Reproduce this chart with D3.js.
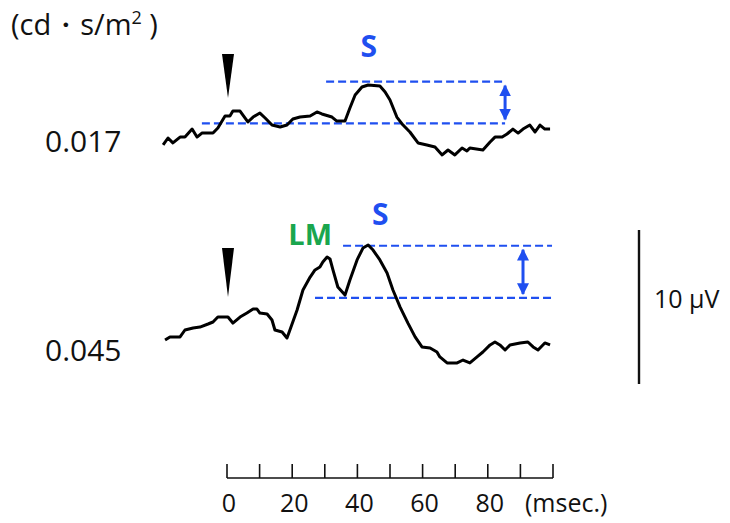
<!DOCTYPE html>
<html>
<head>
<meta charset="utf-8">
<script src="https://cdn.jsdelivr.net/npm/d3@7"></script>
<style>
  html, body { margin: 0; padding: 0; background: #fff; }
  svg { display: block; }
  text { font-family: "Open Sans", Lato, "Liberation Sans", sans-serif; }
</style>
</head>
<body>
<svg id="chart" width="730" height="523"></svg>
<script>
// ---------------- data ----------------
const intensities = ["0.017", "0.045"];
const unitLabel = "(cd・s/m";
const timeTicks = [0, 10, 20, 30, 40, 50, 60, 70, 80, 90, 100];
const timeTickLabels = [0, 20, 40, 60, 80];
const timeUnit = "(msec.)";
const scaleBarValue = 10; // µV
const scaleBarLabel = "10 µV";

// trace 1 (0.017 cd·s/m²): time (ms) and amplitude (µV)
const time017 = [-19.6,-18.1,-16.6,-14.4,-12.9,-10.7,-9.2,-7.7,-4.3,-2.8,-0.6,0.9,1.8,4.0,6.4,8.0,10.1,11.7,13.8,16.3,18.4,20.2,22.4,25.5,27.6,29.1,32.2,33.7,36.2,37.7,39.3,41.4,43.3,46.9,48.5,50.0,52.1,54.0,56.1,58.6,61.3,63.8,66.0,67.8,69.9,72.1,73.6,74.5,78.5,80.7,82.2,84.4,85.9,87.7,89.3,90.8,92.9,94.5,96.0,97.5,99.1];
const amp017  = [-0.32,0.13,-0.19,0.19,0.19,0.71,0.19,0.45,0.45,0.78,1.56,1.56,1.88,1.88,1.17,1.49,1.75,1.43,0.97,0.84,0.97,1.36,1.49,1.56,1.82,1.69,1.49,1.23,1.23,2.08,2.92,3.44,3.57,3.51,3.12,2.60,1.49,0.97,0.52,-0.19,-0.32,-0.45,-0.97,-0.65,-0.97,-0.52,-0.71,-0.52,-0.65,-0.13,0.19,0.19,0.39,0.71,0.45,0.71,0.97,0.52,0.97,0.71,0.71];

// trace 2 (0.045 cd·s/m²)
const time045 = [-19.0,-17.5,-14.4,-12.9,-10.4,-8.3,-5.8,-4.3,-2.8,0.3,1.8,4.0,6.1,8.0,9.2,10.1,12.3,13.8,14.7,16.9,18.4,19.3,21.5,23.3,25.5,27.0,28.5,29.4,30.7,31.6,32.5,34.0,36.2,37.7,39.9,41.7,43.3,44.8,46.9,49.1,50.9,53.1,55.5,57.7,59.8,62.3,64.4,65.3,67.5,70.6,72.4,74.5,76.7,78.5,80.7,82.2,83.7,85.3,86.8,89.9,92.3,93.9,95.4,97.5,99.1];
const amp045  = [-0.65,-0.45,-0.45,0,0.13,0.19,0.39,0.52,0.84,0.84,0.45,0.84,1.10,1.36,1.36,1.10,1.04,0.65,0,-0.13,-0.52,0,1.30,2.60,3.44,3.90,4.09,4.42,4.74,4.61,3.90,2.79,2.27,3.25,4.55,5.32,5.52,5.19,4.55,3.70,2.60,1.49,0.45,-0.45,-1.10,-1.17,-1.43,-1.75,-2.14,-2.14,-1.95,-2.14,-1.75,-1.43,-0.97,-0.78,-0.97,-1.30,-0.97,-0.84,-0.78,-1.10,-1.30,-0.84,-0.97];

// annotation levels (µV) and extents (ms)
const peakLevels   = [3.79, 5.47];
const troughLevels = [1.08, 2.08];
const peakStart    = [30.4, 35.6];
const troughStart  = [-7.7, 27.0];
const dashEnd      = [85.3, 99.7];
const arrowTime    = [85.3, 90.8];
const sLabelTime   = [43.5, 47.0];
const lmLabelTime  = 25.5;

// ---------------- layout ----------------
const svg = d3.select("#chart");
const blue = "#1f4ff0";
const green = "#1aa64e";

const x = d3.scaleLinear().domain([0, 100]).range([227, 553]);
const y = d3.scaleLinear().domain([0, scaleBarValue]).range([0, -154]); // µV -> px offset
const baselines = [140, 330];

const line = d3.line().x((d) => x(d[0])).y((d) => y(d[1]));

const traces = [
  d3.zip(time017, amp017),
  d3.zip(time045, amp045)
];

// unit label
const ul = svg.append("text").attr("x", 11).attr("y", 35)
  .attr("font-size", 29).attr("fill", "#111");
ul.append("tspan").text(unitLabel);
ul.append("tspan").attr("font-size", 18).attr("dy", -11).text("2");
ul.append("tspan").attr("dy", 11).text("  )");

// arrow marker defs
const defs = svg.append("defs");
defs.append("marker").attr("id", "ah").attr("viewBox", "0 0 10 10")
  .attr("refX", 9).attr("refY", 5).attr("markerWidth", 4).attr("markerHeight", 4)
  .attr("markerUnits", "strokeWidth").attr("orient", "auto-start-reverse")
  .append("path").attr("d", "M0,0 L10,5 L0,10 z").attr("fill", blue);

traces.forEach((data, i) => {
  const g = svg.append("g").attr("transform", `translate(0,${baselines[i]})`);

  // intensity label
  svg.append("text").attr("x", 45).attr("y", baselines[i] + (i === 0 ? 12 : 31))
    .attr("font-size", 30).attr("fill", "#111").text(intensities[i]);

  // dashed reference lines
  g.append("line")
    .attr("x1", x(peakStart[i])).attr("x2", x(dashEnd[i]))
    .attr("y1", y(peakLevels[i])).attr("y2", y(peakLevels[i]))
    .attr("stroke", blue).attr("stroke-width", 2.2).attr("stroke-dasharray", "8,4");
  g.append("line")
    .attr("x1", x(troughStart[i])).attr("x2", x(dashEnd[i]))
    .attr("y1", y(troughLevels[i])).attr("y2", y(troughLevels[i]))
    .attr("stroke", blue).attr("stroke-width", 2.2).attr("stroke-dasharray", "8,4");

  // double arrow
  g.append("line")
    .attr("x1", x(arrowTime[i])).attr("x2", x(arrowTime[i]))
    .attr("y1", y(peakLevels[i]) + 4).attr("y2", y(troughLevels[i]) - 4)
    .attr("stroke", blue).attr("stroke-width", 3)
    .attr("marker-start", "url(#ah)").attr("marker-end", "url(#ah)");

  // trace
  g.append("path").datum(data).attr("d", line)
    .attr("fill", "none").attr("stroke", "#000").attr("stroke-width", 3)
    .attr("stroke-linejoin", "round");

  // S label
  g.append("text").attr("x", x(sLabelTime[i])).attr("y", i === 0 ? -83 : -105)
    .attr("text-anchor", "middle").attr("font-size", 30).attr("font-weight", "bold")
    .attr("fill", blue).text("S");
});

// LM label
svg.append("text").attr("x", x(lmLabelTime)).attr("y", 245)
  .attr("text-anchor", "middle").attr("font-size", 29).attr("font-weight", "bold")
  .attr("fill", green).text("LM");

// stimulus arrowheads
const stim = [[54, 98], [248, 297]];
stim.forEach(([top, bot]) => {
  const cx = x(0) + 1;
  svg.append("path")
    .attr("d", `M${cx - 6},${top} L${cx + 6},${top} L${cx},${bot} Z`)
    .attr("fill", "#000");
});

// time axis
const axisY = 478;
svg.append("line").attr("x1", x(0)).attr("x2", x(100))
  .attr("y1", axisY).attr("y2", axisY).attr("stroke", "#111").attr("stroke-width", 1.6);
svg.selectAll(".tk").data(timeTicks).enter().append("line")
  .attr("x1", (d) => x(d)).attr("x2", (d) => x(d))
  .attr("y1", axisY).attr("y2", axisY - 14)
  .attr("stroke", "#111").attr("stroke-width", 1.6);
svg.selectAll(".tl").data(timeTickLabels).enter().append("text")
  .attr("x", (d) => x(d) + 2).attr("y", 512).attr("text-anchor", "middle")
  .attr("font-size", 25).attr("fill", "#111").text((d) => d);
svg.append("text").attr("x", 525).attr("y", 512).attr("font-size", 25)
  .attr("fill", "#111").text(timeUnit);

// scale bar
const sbTop = 230;
svg.append("line").attr("x1", 639).attr("x2", 639)
  .attr("y1", sbTop).attr("y2", sbTop - y(scaleBarValue))
  .attr("stroke", "#111").attr("stroke-width", 2.4);
svg.append("text").attr("x", 654).attr("y", 308).attr("font-size", 25)
  .attr("fill", "#111").text(scaleBarLabel);
</script>
</body>
</html>
